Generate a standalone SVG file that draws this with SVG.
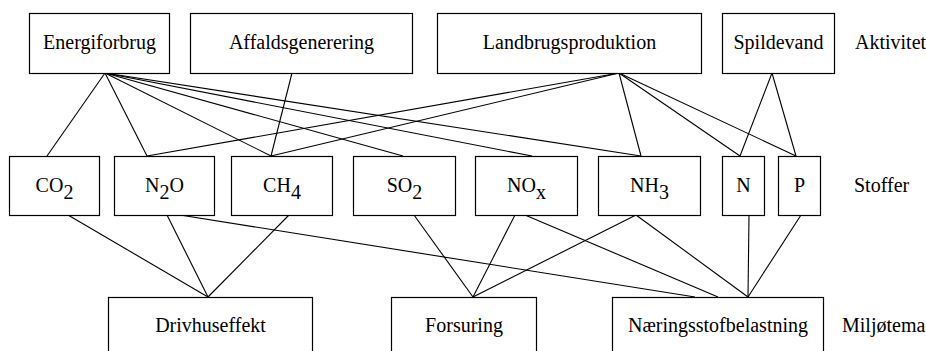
<svg xmlns="http://www.w3.org/2000/svg" width="926" height="351" viewBox="0 0 926 351">
<style>
rect{fill:#fff;stroke:#000;stroke-width:1.2}
text{font-family:'Liberation Serif','DejaVu Serif',serif;font-size:20px;fill:#000;text-anchor:middle}
.lbl{text-anchor:start}
#connectors line{stroke:#000;stroke-width:1.1}
</style>
<rect x="0" y="0" width="926" height="351" style="stroke:none"/>
<g id="connectors">
<line x1="105" y1="73" x2="47" y2="156"/>
<line x1="105" y1="73" x2="147" y2="156"/>
<line x1="105" y1="73" x2="271" y2="156"/>
<line x1="105" y1="73" x2="403" y2="156"/>
<line x1="105" y1="73" x2="532" y2="156"/>
<line x1="105" y1="73" x2="641" y2="156"/>
<line x1="292" y1="73" x2="271" y2="156"/>
<line x1="619" y1="73" x2="147" y2="156"/>
<line x1="619" y1="73" x2="271" y2="156"/>
<line x1="619" y1="73" x2="641" y2="156"/>
<line x1="619" y1="73" x2="740" y2="156"/>
<line x1="619" y1="73" x2="796" y2="156"/>
<line x1="772" y1="73" x2="740" y2="156"/>
<line x1="772" y1="73" x2="796" y2="156"/>
<line x1="68" y1="215" x2="208" y2="297"/>
<line x1="167" y1="215" x2="208" y2="297"/>
<line x1="289" y1="215" x2="208" y2="297"/>
<line x1="180" y1="215" x2="695" y2="297"/>
<line x1="414" y1="215" x2="473" y2="297"/>
<line x1="515" y1="215" x2="473" y2="297"/>
<line x1="636" y1="215" x2="473" y2="297"/>
<line x1="525" y1="215" x2="718" y2="297"/>
<line x1="636" y1="215" x2="748" y2="297"/>
<line x1="749" y1="215" x2="748" y2="297"/>
<line x1="801" y1="215" x2="748" y2="297"/>
</g>
<g font-family="Liberation Serif, serif" font-size="20">
<g id="energiforbrug"><rect x="29.5" y="13.5" width="140" height="60"/><text x="99.5" y="49">Energiforbrug</text></g>
<g id="affaldsgenerering"><rect x="190.5" y="13.5" width="222" height="60"/><text x="301.5" y="49">Affaldsgenerering</text></g>
<g id="landbrugsproduktion"><rect x="437.5" y="13.5" width="264" height="60"/><text x="569.5" y="49">Landbrugsproduktion</text></g>
<g id="spildevand"><rect x="722.5" y="13.5" width="112" height="60"/><text x="778.5" y="49">Spildevand</text></g>
<g id="co2"><rect x="9.5" y="156.5" width="90" height="59"/><text x="54.5" y="192">CO<tspan dy="7">2</tspan></text></g>
<g id="n2o"><rect x="114.5" y="156.5" width="100" height="59"/><text x="164.5" y="192">N<tspan dy="7">2</tspan><tspan dy="-7">O</tspan></text></g>
<g id="ch4"><rect x="231.5" y="156.5" width="101" height="59"/><text x="282" y="192">CH<tspan dy="7">4</tspan></text></g>
<g id="so2"><rect x="353.5" y="156.5" width="102" height="59"/><text x="404.5" y="192">SO<tspan dy="7">2</tspan></text></g>
<g id="nox"><rect x="475.5" y="156.5" width="102" height="59"/><text x="526.5" y="192">NO<tspan dy="7">x</tspan></text></g>
<g id="nh3"><rect x="598.5" y="156.5" width="102" height="59"/><text x="649.5" y="192">NH<tspan dy="7">3</tspan></text></g>
<g id="n"><rect x="722.5" y="156.5" width="42" height="59"/><text x="743.5" y="192">N</text></g>
<g id="p"><rect x="778.5" y="156.5" width="42" height="59"/><text x="799.5" y="192">P</text></g>
<g id="drivhuseffekt"><rect x="108.5" y="297.5" width="204" height="70"/><text x="210.5" y="332">Drivhuseffekt</text></g>
<g id="forsuring"><rect x="391.5" y="297.5" width="145" height="70"/><text x="464" y="332">Forsuring</text></g>
<g id="naeringsstofbelastning"><rect x="612.5" y="297.5" width="211" height="70"/><text x="718" y="332">Næringsstofbelastning</text></g>
<g id="levels">
<text class="lbl" x="855" y="49">Aktivitet</text>
<text class="lbl" x="854" y="192">Stoffer</text>
<text class="lbl" x="842" y="332">Miljøtema</text>
</g>
</g>
</svg>
